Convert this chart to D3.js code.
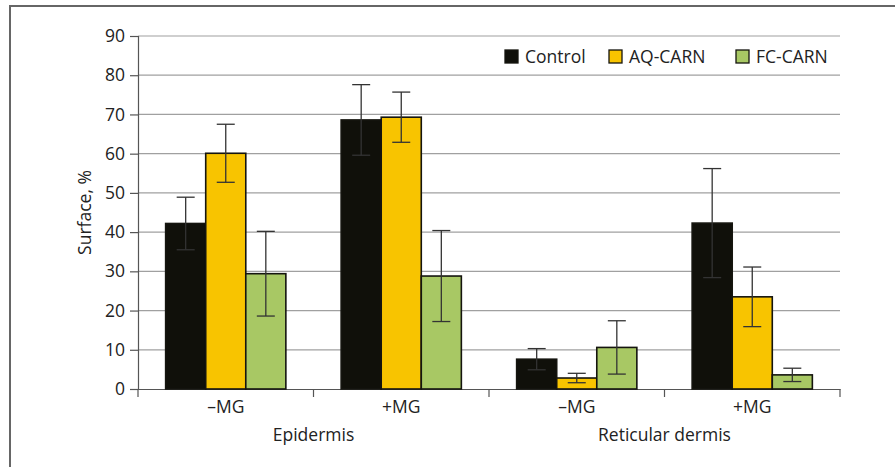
<!DOCTYPE html>
<html lang="en">
<head>
<meta charset="UTF-8">
<title>Surface chart</title>
<script src="https://d3js.org/d3.v7.min.js"></script>
<style>
  body { margin: 0; background: #fff; }
  text { font-family: "Open Sans", "Noto Sans", sans-serif; fill: #222; }
</style>
</head>
<body>
<script>
  const width = 895, height = 467;
  const margin = { top: 36, right: 55, bottom: 78, left: 138 };
  const fontSize = "17.5px";

  // data
  const tissues = ["Epidermis", "Reticular dermis"];
  const conditions = ["\u2013MG", "+MG"];
  const seriesNames = ["Control", "AQ-CARN", "FC-CARN"];
  const seriesColors = ["#10100a", "#f8c400", "#a8c864"];
  const controlMean = [42.2, 68.6, 7.6, 42.3];
  const controlErr = [6.7, 9.0, 2.7, 13.9];
  const aqMean = [60.1, 69.3, 2.8, 23.5];
  const aqErr = [7.4, 6.4, 1.2, 7.6];
  const fcMean = [29.4, 28.8, 10.6, 3.6];
  const fcErr = [10.8, 11.6, 6.8, 1.7];
  const yTicks = [0, 10, 20, 30, 40, 50, 60, 70, 80, 90];

  const means = [controlMean, aqMean, fcMean];
  const errs = [controlErr, aqErr, fcErr];
  const groups = [];
  tissues.forEach(t => conditions.forEach(c => groups.push(t + "|" + c)));

  const svg = d3.select("body").append("svg")
    .attr("width", width).attr("height", height);

  // outer frame (top + left only)
  svg.append("path")
    .attr("d", `M10,${height} L10,6 L${width},6`)
    .attr("fill", "none").attr("stroke", "#666").attr("stroke-width", 2);

  const x0 = d3.scaleBand().domain(groups)
    .range([margin.left, width - margin.right]).paddingInner(0).paddingOuter(0);
  const x1 = d3.scaleBand().domain(seriesNames)
    .range([0, x0.bandwidth()]).paddingOuter(0.69).paddingInner(0);
  const y = d3.scaleLinear().domain([0, 90])
    .range([height - margin.bottom, margin.top]);

  // gridlines
  svg.append("g").selectAll("line").data(yTicks.slice(1)).enter().append("line")
    .attr("x1", margin.left).attr("x2", width - margin.right)
    .attr("y1", d => y(d)).attr("y2", d => y(d))
    .attr("stroke", "#a0a0a0").attr("stroke-width", 1.2);

  // y axis
  const yAxis = svg.append("g")
    .attr("transform", `translate(${margin.left},0)`)
    .call(d3.axisLeft(y).tickValues(yTicks).tickSize(8).tickPadding(5));
  yAxis.select(".domain").attr("stroke", "#555").attr("stroke-width", 1.2);
  yAxis.selectAll(".tick line").attr("stroke", "#555").attr("stroke-width", 1.2);
  yAxis.selectAll(".tick text").style("font-size", fontSize).attr("fill", "#222");

  // x axis
  const xAxis = svg.append("g")
    .attr("transform", `translate(0,${y(0)})`)
    .call(d3.axisBottom(x0).tickSize(0).tickFormat(""));
  xAxis.select(".domain").attr("stroke", "#555").attr("stroke-width", 1.2);
  const boundaries = groups.map(g => x0(g)).concat([x0.range()[1]]);
  xAxis.selectAll(".bnd").data(boundaries).enter().append("line")
    .attr("x1", d => d).attr("x2", d => d).attr("y1", 0).attr("y2", 8)
    .attr("stroke", "#555").attr("stroke-width", 1.2);

  // bars
  const rows = [];
  groups.forEach((g, gi) => seriesNames.forEach((s, si) => {
    rows.push({ g, s, si, v: means[si][gi], e: errs[si][gi] });
  }));

  svg.append("g").selectAll("rect").data(rows).enter().append("rect")
    .attr("x", d => x0(d.g) + x1(d.s))
    .attr("y", d => y(d.v))
    .attr("width", x1.bandwidth())
    .attr("height", d => y(0) - y(d.v))
    .attr("fill", d => seriesColors[d.si])
    .attr("stroke", "#15150f").attr("stroke-width", 1.6);

  // error bars
  const eb = svg.append("g").attr("stroke", "#333").attr("stroke-width", 1.3);
  rows.forEach(d => {
    const cx = x0(d.g) + x1(d.s) + x1.bandwidth() / 2;
    eb.append("line").attr("x1", cx).attr("x2", cx)
      .attr("y1", y(d.v + d.e)).attr("y2", y(Math.max(0, d.v - d.e)));
    eb.append("line").attr("x1", cx - 9).attr("x2", cx + 9)
      .attr("y1", y(d.v + d.e)).attr("y2", y(d.v + d.e));
    eb.append("line").attr("x1", cx - 9).attr("x2", cx + 9)
      .attr("y1", y(d.v - d.e)).attr("y2", y(d.v - d.e));
  });

  // condition labels
  svg.append("g").selectAll("text").data(groups).enter().append("text")
    .attr("x", d => x0(d) + x0.bandwidth() / 2)
    .attr("y", y(0) + 24)
    .attr("text-anchor", "middle").style("font-size", fontSize)
    .text(d => d.split("|")[1]);

  // tissue labels
  svg.append("g").selectAll("text").data(tissues).enter().append("text")
    .attr("x", (d, i) => x0(groups[i * 2 + 1]))
    .attr("y", y(0) + 52)
    .attr("text-anchor", "middle").style("font-size", fontSize)
    .text(d => d);

  // y axis title
  svg.append("text")
    .attr("transform", `translate(91,${(y(0) + y(90)) / 2}) rotate(-90)`)
    .attr("text-anchor", "middle").style("font-size", fontSize)
    .text("Surface, %");

  // legend
  const legendX = [505, 609, 736];
  const leg = svg.append("g");
  seriesNames.forEach((s, i) => {
    leg.append("rect").attr("x", legendX[i]).attr("y", 50)
      .attr("width", 13).attr("height", 13)
      .attr("fill", seriesColors[i]).attr("stroke", "#15150f").attr("stroke-width", 1.3);
    leg.append("text").attr("x", legendX[i] + 20).attr("y", 63)
      .style("font-size", fontSize).text(s);
  });
</script>
</body>
</html>
